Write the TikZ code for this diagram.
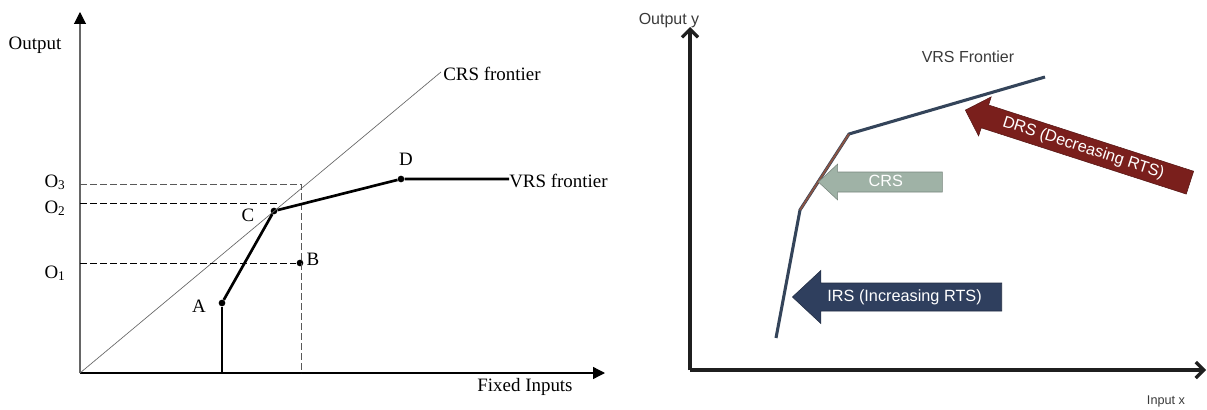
\documentclass[tikz,border=0pt]{standalone}
\usepackage{fontspec}
\setmainfont{Liberation Serif}
\newfontfamily\chartsans{Liberation Sans}
\usetikzlibrary{positioning,arrows.meta,shapes.arrows}
\definecolor{frontline}{HTML}{34445A}
\definecolor{crsseg}{HTML}{8A5444}
\definecolor{crsfill}{HTML}{9FB2A6}
\definecolor{irsfill}{HTML}{2F3F5E}
\definecolor{drsfill}{HTML}{7A1F1C}
\definecolor{sanstext}{HTML}{3A3A3A}
\tikzset{lbl/.style={font=\fontsize{14.2}{16}\selectfont,inner sep=0pt,anchor=base},
         slbl/.style={font=\chartsans\fontsize{12}{14}\selectfont,text=sanstext,inner sep=0pt,anchor=base},
         guide/.style={dash pattern=on 5.3pt off 2.2pt,line width=0.75pt},
         dot/.style={circle,fill=black,inner sep=0pt,minimum size=5pt},
         vrsline/.style={line width=2pt},
         frontier/.style={line width=2.3pt,color=frontline,line join=round},
         rtsarrow/.style={single arrow,shape border rotate=180,single arrow tip angle=86,
           single arrow head indent=0pt,text=white,font=\chartsans\fontsize{12.2}{14}\selectfont,
           text height=8.8pt,text depth=2.6pt,inner xsep=2pt}
}
\tikzstyle{leftaxis} = [-{Triangle[length=9pt,width=9pt,color=black]}]
\tikzstyle{rightaxis} = [line width=2.4pt,color=black!88,-{Straight Barb[length=6pt,width=12pt]}]

\begin{document}
\begin{tikzpicture}[x=0.75pt,y=-0.75pt]
\useasboundingbox (0,0) rectangle (1207,410);

% left chart
\coordinate (orig) at (80,373);
\coordinate (ytop) at (80,12);
\coordinate (xend) at (605,373);
\coordinate (crsend) at (441,72);
\coordinate (obar) at (301,184);
\coordinate (otwo) at (277,203);
\node[dot] (A) at (222,303) {};
\node[dot] (B) at (300,263) {};
\node[dot] (C) at (274,211) {};
\node[dot] (D) at (401,179) {};
\node[lbl] (ylab) at (35,50) {Output};
\node[lbl] (xlab) at (525,391) {Fixed Inputs};
\node[lbl,anchor=base west] (crslab) at (443,80) {CRS frontier};
\node[lbl,anchor=base west] (vrslab) at (509,187) {VRS frontier};
\node[lbl] (alab) at (199,312) {A};
\node[lbl] (blab) at (313,265) {B};
\node[lbl] (clab) at (248,221) {C};
\node[lbl] (dlab) at (406,165) {D};
\node[lbl] (othree) at (55,187) {O\textsubscript{3}};
\node[lbl] (otwolab) at (55,213) {O\textsubscript{2}};
\node[lbl] (oone) at (55,278) {O\textsubscript{1}};
\draw[leftaxis,line width=0.8pt,black!60] (orig) -- (ytop);
\draw[leftaxis,line width=1pt] (orig) -- (xend);
\draw[line width=0.5pt,black!60] (orig) -- (crsend);
\draw[guide,black!65] (obar -| orig) -- (obar) -- (obar |- orig);
\draw[guide] (otwo -| orig) -- (otwo);
\draw[guide] (B -| orig) -- (B);
\draw[vrsline] (A) -- (A |- orig);
\draw[vrsline] (A) -- (C) -- (D) -- (D -| vrslab.west);

% right chart
\coordinate (rorig) at (690,370);
\coordinate (rytop) at (690,27);
\coordinate (rxend) at (1206,370);
\coordinate (f0) at (776,338);
\coordinate (f1) at (800,210);
\coordinate (f2) at (849,134);
\coordinate (f3) at (1045,77);
\node[slbl] (rylab) at (669,25) {Output y};
\node[slbl,font=\chartsans\fontsize{9.5}{11}\selectfont] (rxlab) at (1166,404) {Input x};
\node[slbl] (frontlab) at (968,63) {VRS Frontier};
\draw[rightaxis] (rorig) -- (rytop);
\draw[rightaxis] (rorig) -- (rxend);
\draw[frontier] (f0) -- (f1) -- (f2) -- (f3);
\draw[line width=1.4pt,crsseg] (f1) -- (f2);
\node[rtsarrow,fill=crsfill,draw=crsfill!75!black,minimum height=93pt,
  single arrow head extend=6pt,inner ysep=1.6pt,anchor=tip] (crsarrow) at (818,182) {CRS};
\node[rtsarrow,fill=irsfill,draw=irsfill!70!black,minimum height=157pt,
  single arrow head extend=9.4pt,inner ysep=4.6pt,anchor=tip] (irsarrow) at (792,297) {IRS (Increasing RTS)};
\node[rtsarrow,fill=drsfill,draw=drsfill!70!black,minimum height=177pt,rotate=-17.9,
  single arrow tip angle=90,single arrow head extend=6.4pt,inner ysep=3.1pt,anchor=tip] (drsarrow) at (965,110) {DRS (Decreasing RTS)};

\end{tikzpicture}
\end{document}
